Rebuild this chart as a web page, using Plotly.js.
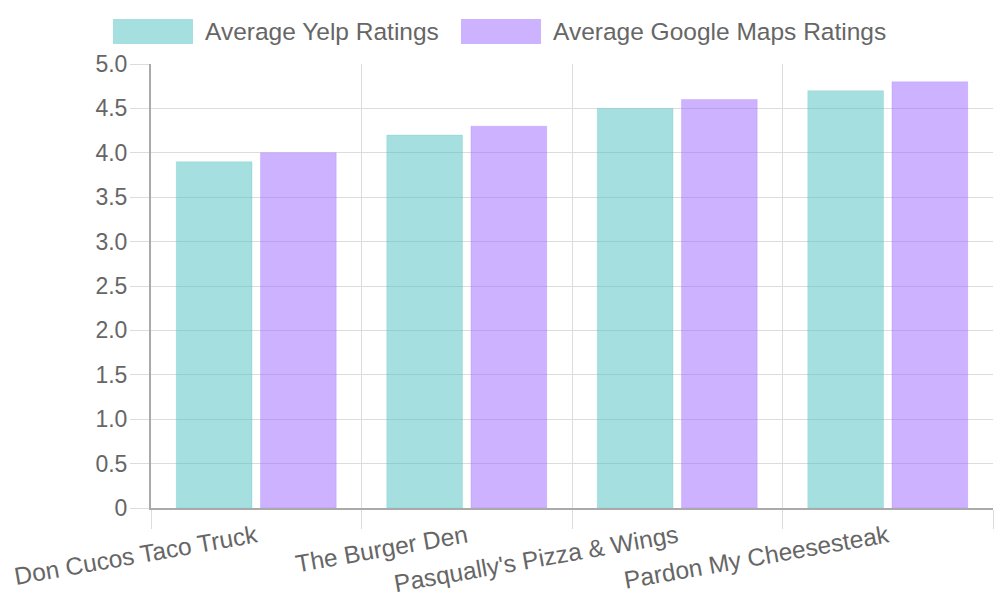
<!DOCTYPE html>
<html>
<head>
<meta charset="utf-8">
<script src="https://cdn.plot.ly/plotly-3.0.1.min.js"></script>
<style>
  html, body { margin: 0; padding: 0; background: #fff; }
  #graph { width: 1000px; height: 600px; }
</style>
</head>
<body>
<div id="graph"></div>
<script>
const restaurants = [
  "Don Cucos Taco Truck",
  "The Burger Den",
  "Pasqually's Pizza & Wings",
  "Pardon My Cheesesteak",
];
const seriesNames = ["Average Yelp Ratings", "Average Google Maps Ratings"];
const yelpRatings = [3.9, 4.2, 4.5, 4.7];
const googleRatings = [4.0, 4.3, 4.6, 4.8];
const yTickVals = [0, 0.5, 1, 1.5, 2, 2.5, 3, 3.5, 4, 4.5, 5];
const yTickText = ["0", "0.5", "1.0", "1.5", "2.0", "2.5", "3.0", "3.5", "4.0", "4.5", "5.0"];

const fills = ["rgba(75,192,192,0.5)", "rgba(153,102,255,0.5)"];
const edges = ["rgba(75,192,192,0.2)", "rgba(153,102,255,0.2)"];
const fontFamily = "'Liberation Sans', Arial, sans-serif";

let traces = [yelpRatings, googleRatings].map((vals, i) => ({
  type: "bar",
  name: seriesNames[i],
  x: restaurants,
  y: vals,
  marker: { color: fills[i], line: { color: edges[i], width: 1 } },
  hoverinfo: "x+y",
}));

// hand-drawn legend in paper coords (chart.js style wide swatches)
const legendX = [-0.0451, 0.3682];
let shapes = [];
let annotations = [];
seriesNames.forEach((name, i) => {
  shapes.push({
    type: "rect",
    xref: "paper",
    yref: "paper",
    x0: legendX[i],
    x1: legendX[i] + 0.095,
    y0: 1.045,
    y1: 1.1014,
    fillcolor: fills[i],
    line: { width: 0 },
  });
  annotations.push({
    xref: "paper",
    yref: "paper",
    x: legendX[i] + 0.1066,
    y: 1.0732,
    xanchor: "left",
    yanchor: "middle",
    showarrow: false,
    text: name,
    font: { size: 24.5, color: "#666" },
  });
});

let layout = {
  width: 1000,
  height: 600,
  showlegend: false,
  barmode: "group",
  bargap: 0.2,
  bargroupgap: 0.1,
  margin: { l: 151, r: 7, t: 64, b: 92, pad: 0 },
  paper_bgcolor: "#fff",
  plot_bgcolor: "#fff",
  font: { family: fontFamily, color: "#666", size: 22 },
  xaxis: {
    type: "category",
    tickson: "boundaries",
    ticks: "outside",
    ticklen: 19,
    tickcolor: "#dcdcdc",
    tickangle: -10,
    ticklabelstandoff: 3,
    showgrid: true,
    gridcolor: "#dcdcdc",
    showline: true,
    linecolor: "#aaa",
    linewidth: 2,
    tickfont: { size: 24.5, color: "#666" },
    fixedrange: true,
  },
  yaxis: {
    range: [0, 5],
    tickvals: yTickVals,
    ticktext: yTickText,
    ticks: "outside",
    ticklen: 19,
    tickcolor: "#dcdcdc",
    ticklabelstandoff: -2,
    showgrid: true,
    gridcolor: "#dcdcdc",
    zeroline: false,
    showline: true,
    linecolor: "#aaa",
    linewidth: 2,
    tickfont: { size: 23, color: "#666" },
    fixedrange: true,
  },
  shapes: shapes,
  annotations: annotations,
};

Plotly.newPlot("graph", traces, layout, { displayModeBar: false, staticPlot: true });
</script>
</body>
</html>
